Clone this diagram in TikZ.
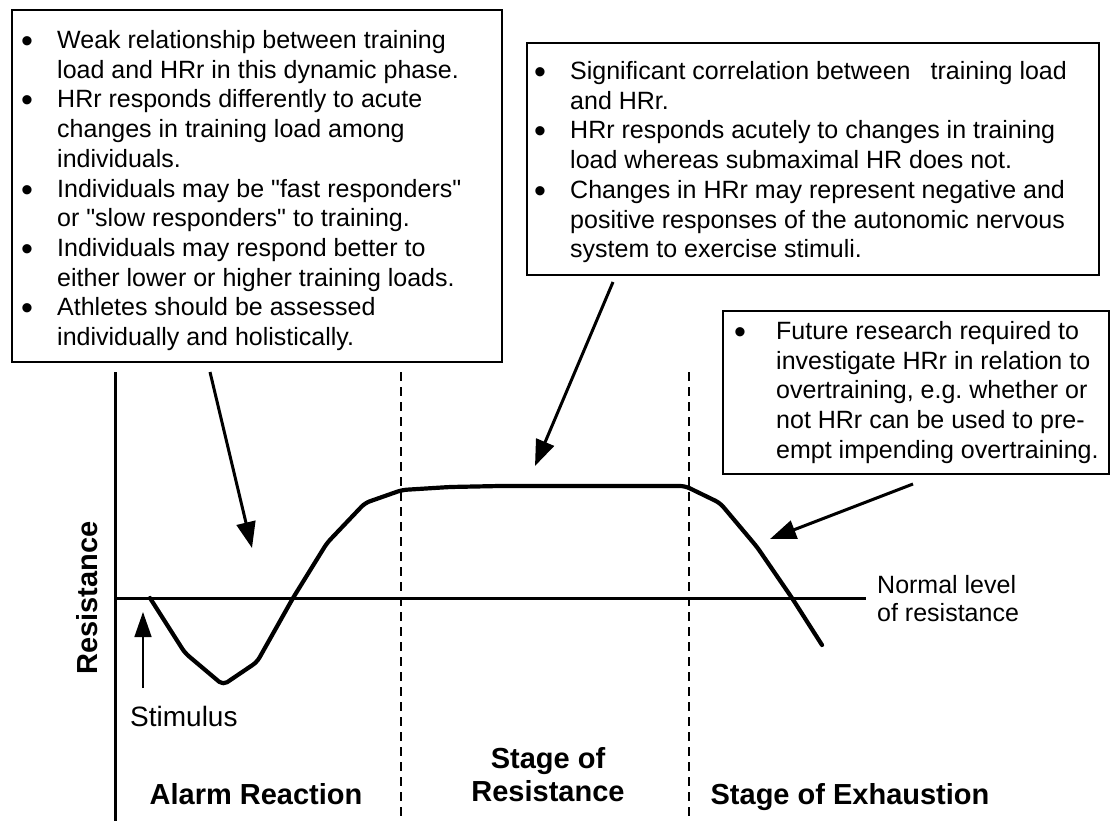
\documentclass[tikz,border=0pt]{standalone}
\usepackage{fontspec}
\setmainfont{Liberation Sans}[Ligatures=TeXOff]
\usetikzlibrary{arrows.meta}
\newcommand\blt[1]{\makebox[#1][l]{\raisebox{-4pt}{\fontsize{34}{34}\selectfont\textbullet}}}
\begin{document}
\frenchspacing
\begin{tikzpicture}[x=1pt,y=-1pt,
  box/.style={draw,line width=1.6pt,inner sep=0pt,anchor=north west},
  txt/.style={inner sep=0pt,anchor=north west,font=\fontsize{25}{29.7}\selectfont},
  lbl/.style={inner sep=0pt,font=\bfseries\fontsize{29}{33}\selectfont},
  plain/.style={inner sep=0pt,anchor=base west},
  curve/.style={line width=4.2pt,rounded corners=5pt,line join=round,line cap=round},
  pointer/.style={line width=3pt,-{Triangle[length=26pt,width=19pt]}},
  axis/.style={line width=3pt},
  stageline/.style={line width=1.3pt,dash pattern=on 9pt off 6pt}]
\useasboundingbox (0,0) rectangle (1113,821);

% boxes
\node[box,minimum width=490pt,minimum height=352pt] (b1) at (11,9) {};
\node[box,minimum width=572pt,minimum height=232pt] (b2) at (526,42) {};
\node[box,minimum width=386pt,minimum height=163pt] (b3) at (722,310) {};

\node[txt] (t1) at (21,27.6) {\begin{tabular}{@{}l@{}l@{}}
\blt{36pt} & Weak relationship between training\\
 & load and HRr in this dynamic phase.\\
\blt{36pt} & HRr responds differently to acute\\
 & changes in training load among\\
 & individuals.\\
\blt{36pt} & Individuals may be "fast responders"\\
 & or "slow responders" to training.\\
\blt{36pt} & Individuals may respond better to\\
 & either lower or higher training loads.\\
\blt{36pt} & Athletes should be assessed\\
 & individually and holistically.
\end{tabular}};

\node[txt] (t2) at (534,58.6) {\begin{tabular}{@{}l@{}l@{}}
\blt{36pt} & Significant correlation between\hspace{20pt}training load\\
 & and HRr.\\
\blt{36pt} & HRr responds acutely to changes in training\\
 & load whereas submaximal HR does not.\\
\blt{36pt} & Changes in HRr may represent negative and\\
 & positive responses of the autonomic nervous\\
 & system to exercise stimuli.
\end{tabular}};

\node[txt] (t3) at (734,318.6) {\begin{tabular}{@{}l@{}l@{}}
\blt{42pt} & Future research required to\\
 & investigate HRr in relation to\\
 & overtraining, e.g. whether or\\
 & not HRr can be used to pre-\\
 & empt impending overtraining.
\end{tabular}};

% axes and stage separators
\draw[axis] (115,372) -- (115,821);
\draw[axis] (115,598) -- (866,598);
\draw[stageline] (401,372) -- (401,821);
\draw[stageline] (689,372) -- (689,821);

% response curve
\draw[curve] (150,598) -- (185,653) -- (223,685) -- (257,662) -- (293,598)
  -- (327,543) -- (365,503) -- (402,490) -- (450,487) -- (500,486)
  -- (685,486) -- (720,503) -- (757,547) -- (792,598) -- (822,645);

% pointers
\coordinate (a1s) at (210,372); \coordinate (a1e) at (252,548);
\coordinate (a2s) at (613,282); \coordinate (a2e) at (535,466);
\coordinate (a3s) at (913,484); \coordinate (a3e) at (770,539);
\coordinate (s1s) at (143,688); \coordinate (s1e) at (143,612);
\draw[pointer] (a1s) -- (a1e);
\draw[pointer] (a2s) -- (a2e);
\draw[pointer] (a3s) -- (a3e);
\draw[line width=1.5pt,-{Triangle[length=25pt,width=17pt]}] (s1s) -- (s1e);

% labels
\node[lbl,anchor=base] (alarm) at (256,804) {Alarm Reaction};
\node[lbl,anchor=base] (rs1) at (548,768) {Stage of};
\node[lbl,anchor=base] (rs2) at (548,801) {Resistance};
\node[lbl,anchor=base] (exh) at (850,804) {Stage of Exhaustion};
\node[lbl,anchor=base,rotate=90] (ylab) at (97,598) {Resistance};
\node[plain,font=\fontsize{28}{33}\selectfont] (stim) at (130,726) {Stimulus};
\node[plain,font=\fontsize{25}{28.5}\selectfont] (norm1) at (877,593) {Normal level};
\node[plain,font=\fontsize{25}{28.5}\selectfont] (norm2) at (877,621.5) {of resistance};
\end{tikzpicture}
\end{document}
